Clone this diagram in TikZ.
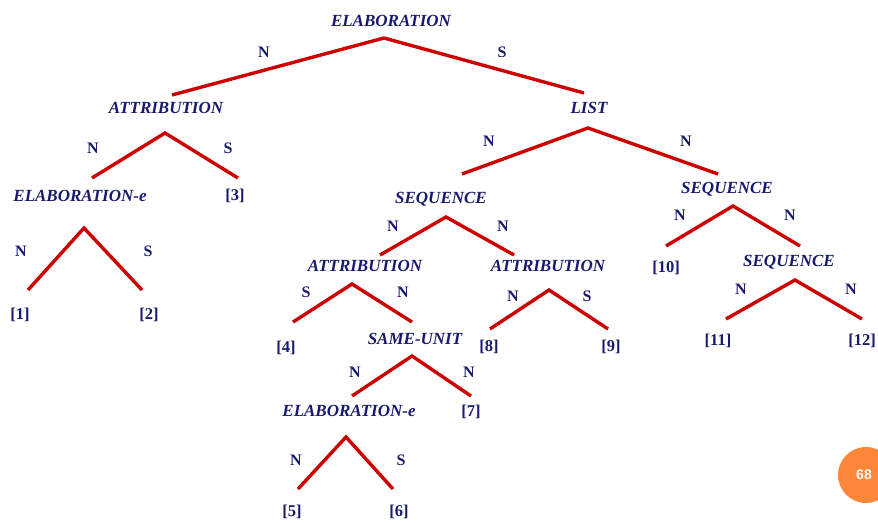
\documentclass[tikz,border=0pt]{standalone}
\usepackage{fontspec}
\setmainfont{Liberation Serif}
\newfontfamily\pagefont{Liberation Sans}
\definecolor{relblue}{RGB}{25,25,110}
\definecolor{branchred}{RGB}{204,0,0}
\definecolor{pageorange}{RGB}{253,134,56}
\tikzset{
  rel/.style={text=relblue,inner sep=0pt,font=\fontsize{17}{20}\selectfont\bfseries\itshape},
  nuc/.style={text=relblue,inner sep=0pt,font=\fontsize{16}{19}\selectfont\bfseries},
  edu/.style={text=relblue,inner sep=0pt,font=\fontsize{16.5}{19}\selectfont\bfseries},
  branch/.style={draw=branchred,line width=3.4pt},
}

\begin{document}
\begin{tikzpicture}[x=1pt,y=-1pt]
  \clip (0,0) rectangle (878,522);
  \fill[white] (0,0) rectangle (878,522);

  % root: elaboration
  \node[rel] (elab) at (391,21) {ELABORATION};
  \coordinate (elabTop) at (384,38);
  \coordinate (elabL) at (172,95);
  \coordinate (elabR) at (584,93);
  \draw[branch] (elabL) -- (elabTop) -- (elabR);
  \node[nuc] (elabN) at (264,52) {N};
  \node[nuc] (elabS) at (502,52) {S};

  % left part
  \node[rel] (attr) at (166,108) {ATTRIBUTION};
  \coordinate (attrTop) at (165,133);
  \coordinate (attrL) at (92,178);
  \coordinate (attrR) at (238,178);
  \draw[branch] (attrL) -- (attrTop) -- (attrR);
  \node[nuc] (attrN) at (93,148) {N};
  \node[nuc] (attrS) at (228,148) {S};
  \node[edu] (e3) at (235,196) {[3]};

  \node[rel] (elabe) at (80,196) {ELABORATION-e};
  \coordinate (elabeTop) at (84,228);
  \coordinate (elabeL) at (28,290);
  \coordinate (elabeR) at (142,290);
  \draw[branch] (elabeL) -- (elabeTop) -- (elabeR);
  \node[nuc] (elabeN) at (21,251) {N};
  \node[nuc] (elabeS) at (148,251) {S};
  \node[edu] (e1) at (20,315) {[1]};
  \node[edu] (e2) at (149,315) {[2]};

  % right part: list
  \node[rel] (list) at (589,108) {LIST};
  \coordinate (listTop) at (588,128);
  \coordinate (listL) at (462,174);
  \coordinate (listR) at (718,174);
  \draw[branch] (listL) -- (listTop) -- (listR);
  \node[nuc] (listN1) at (489,141) {N};
  \node[nuc] (listN2) at (686,141) {N};

  \node[rel] (seqA) at (441,199) {SEQUENCE};
  \coordinate (seqATop) at (446,217);
  \coordinate (seqAL) at (380,255);
  \coordinate (seqAR) at (514,255);
  \draw[branch] (seqAL) -- (seqATop) -- (seqAR);
  \node[nuc] (seqAN1) at (393,226) {N};
  \node[nuc] (seqAN2) at (503,226) {N};

  \node[rel] (attrA) at (365,266) {ATTRIBUTION};
  \coordinate (attrATop) at (352,284);
  \coordinate (attrAL) at (293,322);
  \coordinate (attrAR) at (412,322);
  \draw[branch] (attrAL) -- (attrATop) -- (attrAR);
  \node[nuc] (attrAS) at (306,292) {S};
  \node[nuc] (attrAN) at (403,292) {N};
  \node[edu] (e4) at (286,348) {[4]};

  \node[rel] (same) at (415,339) {SAME-UNIT};
  \coordinate (sameTop) at (412,356);
  \coordinate (sameL) at (352,396);
  \coordinate (sameR) at (471,396);
  \draw[branch] (sameL) -- (sameTop) -- (sameR);
  \node[nuc] (sameN1) at (355,372) {N};
  \node[nuc] (sameN2) at (469,372) {N};
  \node[edu] (e7) at (471,412) {[7]};

  \node[rel] (elabeB) at (349,411) {ELABORATION-e};
  \coordinate (elabeBTop) at (346,437);
  \coordinate (elabeBL) at (298,489);
  \coordinate (elabeBR) at (393,489);
  \draw[branch] (elabeBL) -- (elabeBTop) -- (elabeBR);
  \node[nuc] (elabeBN) at (296,460) {N};
  \node[nuc] (elabeBS) at (401,460) {S};
  \node[edu] (e5) at (292,512) {[5]};
  \node[edu] (e6) at (399,512) {[6]};

  \node[rel] (attrB) at (548,266) {ATTRIBUTION};
  \coordinate (attrBTop) at (549,290);
  \coordinate (attrBL) at (490,329);
  \coordinate (attrBR) at (608,329);
  \draw[branch] (attrBL) -- (attrBTop) -- (attrBR);
  \node[nuc] (attrBN) at (513,296) {N};
  \node[nuc] (attrBS) at (587,296) {S};
  \node[edu] (e8) at (489,347) {[8]};
  \node[edu] (e9) at (611,347) {[9]};

  \node[rel] (seqB) at (727,189) {SEQUENCE};
  \coordinate (seqBTop) at (733,206);
  \coordinate (seqBL) at (666,246);
  \coordinate (seqBR) at (800,246);
  \draw[branch] (seqBL) -- (seqBTop) -- (seqBR);
  \node[nuc] (seqBN1) at (680,215) {N};
  \node[nuc] (seqBN2) at (790,215) {N};
  \node[edu] (e10) at (666,268) {[10]};

  \node[rel] (seqC) at (789,262) {SEQUENCE};
  \coordinate (seqCTop) at (795,280);
  \coordinate (seqCL) at (726,319);
  \coordinate (seqCR) at (862,319);
  \draw[branch] (seqCL) -- (seqCTop) -- (seqCR);
  \node[nuc] (seqCN1) at (741,289) {N};
  \node[nuc] (seqCN2) at (851,289) {N};
  \node[edu] (e11) at (718,341) {[11]};
  \node[edu] (e12) at (862,341) {[12]};

  % slide number
  \fill[pageorange] (866,475) circle (28);
  \node[text=white,font=\fontsize{14}{16}\selectfont\pagefont\bfseries] (page) at (864,475) {68};
\end{tikzpicture}
\end{document}
